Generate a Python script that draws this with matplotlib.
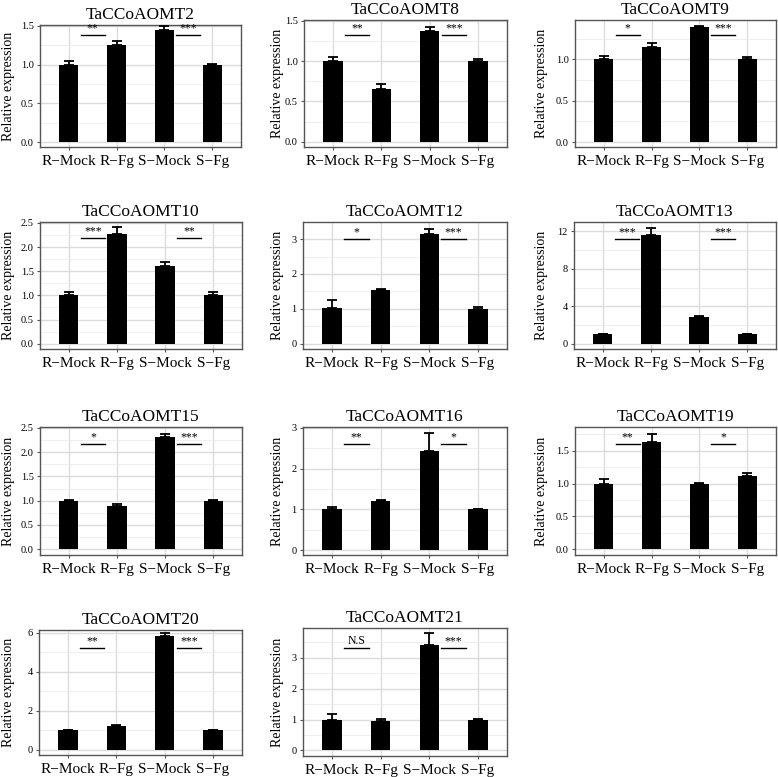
import matplotlib
matplotlib.use("Agg")
import matplotlib.pyplot as plt
import numpy as np
from matplotlib.ticker import MultipleLocator

plt.rcParams['font.family'] = ['Liberation Serif', 'DejaVu Serif']

categories = ["R\u2212Mock", "R\u2212Fg", "S\u2212Mock", "S\u2212Fg"]

genes = ["TaCCoAOMT2", "TaCCoAOMT8", "TaCCoAOMT9", "TaCCoAOMT10", "TaCCoAOMT12",
         "TaCCoAOMT13", "TaCCoAOMT15", "TaCCoAOMT16", "TaCCoAOMT19", "TaCCoAOMT20",
         "TaCCoAOMT21"]

means_T2 = [1.0, 1.25, 1.45, 1.0]
err_T2 = [0.04, 0.05, 0.05, 0.01]
means_T8 = [1.0, 0.65, 1.37, 1.0]
err_T8 = [0.05, 0.07, 0.05, 0.03]
means_T9 = [1.0, 1.15, 1.39, 1.0]
err_T9 = [0.04, 0.05, 0.02, 0.03]
means_T10 = [1.0, 2.28, 1.6, 1.0]
err_T10 = [0.07, 0.14, 0.09, 0.07]
means_T12 = [1.02, 1.55, 3.15, 1.0]
err_T12 = [0.23, 0.03, 0.15, 0.04]
means_T13 = [1.0, 11.6, 2.85, 1.0]
err_T13 = [0.08, 0.8, 0.15, 0.08]
means_T15 = [1.0, 0.9, 2.31, 1.0]
err_T15 = [0.02, 0.03, 0.07, 0.01]
means_T16 = [1.0, 1.2, 2.42, 1.0]
err_T16 = [0.05, 0.04, 0.45, 0.02]
means_T19 = [1.0, 1.63, 1.0, 1.12]
err_T19 = [0.07, 0.13, 0.01, 0.04]
means_T20 = [1.0, 1.22, 5.8, 1.0]
err_T20 = [0.03, 0.04, 0.18, 0.03]
means_T21 = [1.0, 0.97, 3.43, 1.0]
err_T21 = [0.17, 0.04, 0.37, 0.03]

sig_R = ["**", "**", "*", "***", "*", "***", "*", "**", "**", "**", "N.S"]
sig_S = ["***", "***", "***", "**", "***", "***", "***", "*", "*", "***", "***"]
sig_y = [1.38, 1.33, 1.30, 2.18, 3.0, 11.2, 2.17, 2.6, 1.6, 5.23, 3.32]

ylims = [(-0.064, 1.51), (-0.065, 1.51), (-0.06, 1.478), (-0.11, 2.52), (-0.15, 3.49),
         (-0.57, 13.0), (-0.12, 2.52), (-0.12, 3.02), (-0.086, 1.86), (-0.26, 6.13),
         (-0.18, 3.97)]
major = [0.5, 0.5, 0.5, 0.5, 1, 4, 0.5, 1, 0.5, 2, 1]
fmt = ["%.1f", "%.1f", "%.1f", "%.1f", "%d", "%d", "%.1f", "%d", "%.1f", "%d", "%d"]

means = [means_T2, means_T8, means_T9, means_T10, means_T12, means_T13, means_T15,
         means_T16, means_T19, means_T20, means_T21]
errs = [err_T2, err_T8, err_T9, err_T10, err_T12, err_T13, err_T15, err_T16,
        err_T19, err_T20, err_T21]

W, H = 778, 777
boxes = [(40, 25, 241, 147), (304, 20, 507, 147), (575, 20, 776, 147),
         (40, 222, 242, 349), (303, 222, 507, 349), (574, 222, 776, 349),
         (40, 427, 242, 555), (303, 427, 507, 555), (575, 427, 776, 555),
         (39, 630, 242, 755), (303, 628, 507, 756)]
ylabel_x = [9, 278, 542, 9, 278, 542, 9, 278, 542, 9, 278]

fig = plt.figure(figsize=(W / 100, H / 100), dpi=100)

x = np.arange(1, 5)
for i, g in enumerate(genes):
    l, t, r, b = boxes[i]
    ax = fig.add_axes([l / W, 1 - b / H, (r - l) / W, (b - t) / H])
    ax.set_xlim(0.4, 4.6)
    ax.set_ylim(*ylims[i])
    ax.yaxis.set_major_locator(MultipleLocator(major[i]))
    ax.yaxis.set_minor_locator(MultipleLocator(major[i] / 2))
    ax.set_xticks(x)
    ax.set_xticklabels(categories, fontsize=11)
    ax.yaxis.set_major_formatter(matplotlib.ticker.FormatStrFormatter(fmt[i]))
    ax.grid(True, which='major', color='#dcdcdc', lw=1.0)
    ax.grid(True, which='minor', axis='y', color='#ececec', lw=0.6)
    ax.set_axisbelow(True)
    for s in ax.spines.values():
        s.set_color('#555555')
        s.set_linewidth(1.0)
    ax.tick_params(axis='y', which='major', labelsize=7.5, length=2.5, color='#555555', pad=2)
    ax.tick_params(axis='y', which='minor', length=0)
    ax.tick_params(axis='x', length=2.5, color='#555555', pad=3)
    m = means[i]
    e = errs[i]
    ax.bar(x, m, width=0.4, color='black', zorder=3)
    ax.errorbar(x, m, yerr=[np.zeros(4), e], fmt='none', ecolor='black',
                elinewidth=1.3, capsize=3.5, capthick=1.3, zorder=3)
    y0 = sig_y[i]
    span = ylims[i][1] - ylims[i][0]
    for xs, lab in ((1, sig_R[i]), (3, sig_S[i])):
        ax.plot([xs + 0.25, xs + 0.75], [y0, y0], color='black', lw=1.0, zorder=4)
        ax.text(xs + 0.5, y0 + span * 0.005, lab, ha='center', va='bottom',
                fontsize=8.5, zorder=4)
    ax.set_title(g, fontsize=12.5, pad=4)
    fig.text(ylabel_x[i] / W, 1 - (t + b) / 2 / H, "Relative expression",
             rotation=90, ha='center', va='center', fontsize=10)

fig.savefig("out.png", dpi=100)
